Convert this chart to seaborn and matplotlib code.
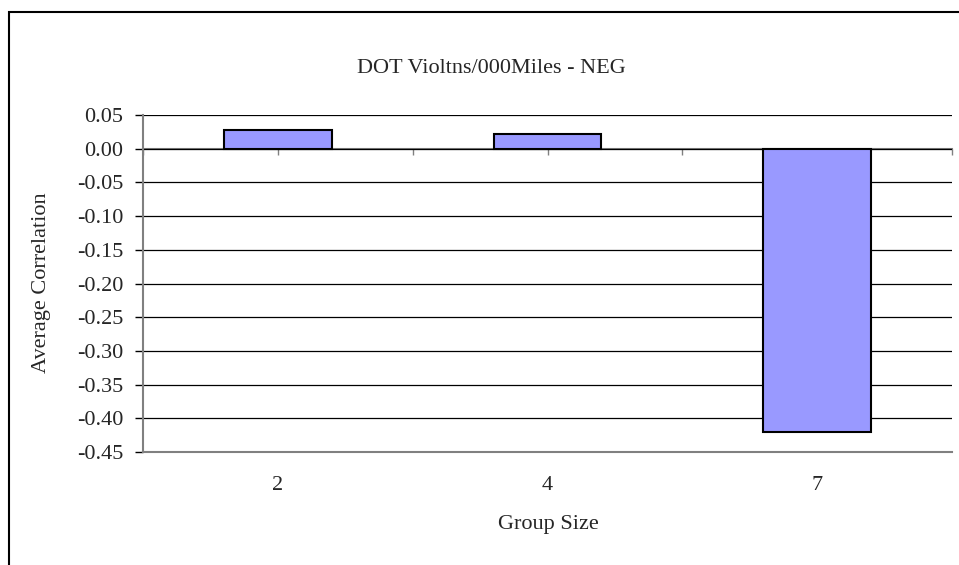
import matplotlib
matplotlib.use("Agg")
import matplotlib.pyplot as plt
from matplotlib.patches import Rectangle
import seaborn as sns
import pandas as pd

# Average correlation by group size
group_sizes = ["2", "4", "7"]
avg_corr = [0.028, 0.022, -0.420]
y_ticks = [0.05, 0.00, -0.05, -0.10, -0.15, -0.20, -0.25, -0.30, -0.35, -0.40, -0.45]

title = "DOT Violtns/000Miles - NEG"
x_label = "Group Size"
y_label = "Average Correlation"

df = pd.DataFrame({"group": group_sizes, "corr": avg_corr})

sns.set_theme(style="white")
plt.rcParams["font.family"] = ["Liberation Serif", "DejaVu Serif"]
FS = 16

fig = plt.figure(figsize=(9.59, 5.65), dpi=100)
ax = fig.add_axes([143 / 959, 1 - 452 / 565, (952 - 143) / 959, (452 - 115) / 565])

sns.barplot(data=df, x="group", y="corr", order=group_sizes, color="#9999FF",
            saturation=1, width=0.4, edgecolor="black", linewidth=1.5, ax=ax, zorder=3)

ax.set_xlim(-0.5, len(group_sizes) - 0.5)
ax.set_ylim(min(y_ticks), max(y_ticks))
ax.set_yticks(y_ticks)
ax.set_yticklabels([f"{v:.2f}" for v in y_ticks], fontsize=FS)
ax.yaxis.grid(True, color="black", linewidth=0.9, zorder=0)
ax.set_axisbelow(True)

for side in ("top", "right"):
    ax.spines[side].set_visible(False)
for side in ("left", "bottom"):
    ax.spines[side].set_color("#808080")
    ax.spines[side].set_linewidth(1.5)

ax.tick_params(axis="y", direction="out", length=6, width=1, color="black", pad=8, left=True)
ax.tick_params(axis="x", length=0, pad=17, labelsize=FS)
ax.set_xlabel("")
ax.set_ylabel("")

# category axis drawn through zero, with marks at centres and between categories
zero_frac = (0 - min(y_ticks)) / (max(y_ticks) - min(y_ticks))
sec = ax.secondary_xaxis(zero_frac)
sec_ticks = [i / 2 - 0.5 for i in range(2 * len(group_sizes) + 1)]
sec.set_xticks(sec_ticks, labels=[""] * len(sec_ticks))
sec.tick_params(axis="x", which="both", direction="in", length=4, width=1, color="#808080",
                labeltop=False, labelbottom=False)
sec.spines["bottom"].set_color("#808080")
sec.spines["bottom"].set_linewidth(1.5)
sec.spines["top"].set_color("#808080")
sec.spines["top"].set_linewidth(1.5)

fig.text(491 / 959, 1 - 68 / 565, title, ha="center", va="center", fontsize=FS)
fig.text(548 / 959, 1 - 524 / 565, x_label, ha="center", va="center", fontsize=FS)
fig.text(42 / 959, 1 - 283 / 565, y_label, ha="center", va="center", rotation=90, fontsize=FS)

# chart frame
fig.patches.append(Rectangle((9 / 959, -0.1), 1.2, 1 - 12 / 565 + 0.1, transform=fig.transFigure,
                             fill=False, edgecolor="black", linewidth=1.5))

fig.savefig("out.png", dpi=100, facecolor="white")
